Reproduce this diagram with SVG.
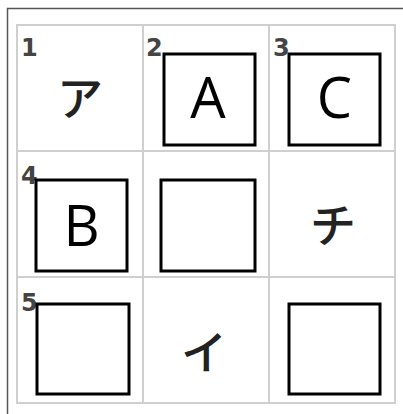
<svg xmlns="http://www.w3.org/2000/svg" width="403" height="414" viewBox="0 0 403 414">
<style>
.frame{fill:none;stroke:#555;stroke-width:1.5}
.grid{fill:none;stroke:#cfcfcf;stroke-width:2}
.box{fill:#fff;stroke:#000;stroke-width:3}
.num{font-family:"DejaVu Sans",sans-serif;font-weight:bold;font-size:24px;fill:#444}
.kana{font-family:"Noto Sans CJK JP",sans-serif;font-weight:500;font-size:46px;fill:#222;text-anchor:middle}
.lat{font-family:"Open Sans",sans-serif;font-size:56px;fill:#000;text-anchor:middle}
</style>
<rect width="403" height="414" fill="#fff"/>
<path class="frame" d="M7.5,414 V8.5 H403"/>
<g id="grid">
<rect class="grid" x="17" y="25" width="378" height="378"/>
<path class="grid" d="M143,25 V403 M269,25 V403 M17,151 H395 M17,277 H395"/>
</g>
<g id="cell1"><text class="num" x="21" y="56">1</text><text class="kana" x="80" y="115">ア</text></g>
<g id="cell2"><text class="num" x="146" y="56">2</text><rect class="box" x="164" y="54" width="91" height="91"/><text class="lat" x="208" y="118">A</text></g>
<g id="cell3"><text class="num" x="273" y="56">3</text><rect class="box" x="289" y="54" width="91" height="91"/><text class="lat" x="334.5" y="118">C</text></g>
<g id="cell4"><text class="num" x="21" y="184">4</text><rect class="box" x="36" y="180" width="91" height="91"/><text class="lat" x="81.5" y="246">B</text></g>
<g id="cell5"><rect class="box" x="161" y="180" width="94" height="91"/></g>
<g id="cell6"><text class="kana" x="333" y="242">チ</text></g>
<g id="cell7"><text class="num" x="21" y="311">5</text><rect class="box" x="37" y="304" width="92" height="90"/></g>
<g id="cell8"><text class="kana" x="204" y="369">イ</text></g>
<g id="cell9"><rect class="box" x="289" y="304" width="91" height="90"/></g>
</svg>
